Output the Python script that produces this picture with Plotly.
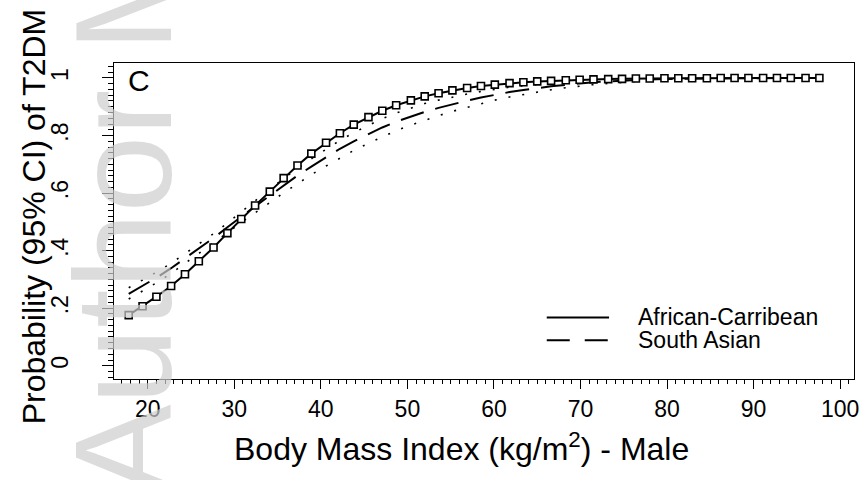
import plotly.graph_objects as go

# BMI values (x grid where the curves are evaluated)
bmi = [17.8, 19.4, 21.0, 22.7, 24.3, 25.9, 27.6, 29.2, 30.8, 32.4,
       34.1, 35.7, 37.3, 38.9, 40.6, 42.2, 43.8, 45.5, 47.1, 48.7,
       50.4, 52.0, 53.6, 55.2, 56.9, 58.5, 60.1, 61.8, 63.4, 65.0,
       66.6, 68.3, 69.9, 71.5, 73.2, 74.8, 76.4, 78.0, 79.7, 81.3,
       82.9, 84.6, 86.2, 87.8, 89.4, 91.1, 92.7, 94.3, 96.0, 97.6]

african_caribbean = [0.176, 0.207, 0.240, 0.277, 0.318, 0.363, 0.411, 0.461, 0.510, 0.557,
                     0.605, 0.652, 0.696, 0.737, 0.775, 0.808, 0.838, 0.864, 0.886, 0.905,
                     0.922, 0.936, 0.947, 0.957, 0.965, 0.972, 0.977, 0.982, 0.985, 0.988,
                     0.990, 0.992, 0.994, 0.995, 0.996, 0.997, 0.998, 0.998, 0.999, 0.999,
                     0.999, 0.999, 1.0, 1.0, 1.0, 1.0, 1.0, 1.0, 1.0, 1.0]

south_asian = [0.250, 0.277, 0.306, 0.339, 0.373, 0.408, 0.444, 0.481, 0.518, 0.554,
               0.591, 0.627, 0.661, 0.692, 0.724, 0.754, 0.780, 0.805, 0.828, 0.848,
               0.866, 0.882, 0.896, 0.909, 0.921, 0.932, 0.942, 0.951, 0.958, 0.965,
               0.971, 0.976, 0.981, 0.985, 0.988, 0.991, 0.993, 0.995, 0.996, 0.997,
               0.998, 0.998, 0.999, 0.999, 0.999, 1.0, 1.0, 1.0, 1.0, 1.0]

south_asian_upper = [0.271, 0.297, 0.325, 0.356, 0.389, 0.423, 0.459, 0.496, 0.535, 0.574,
                     0.613, 0.651, 0.686, 0.719, 0.752, 0.783, 0.810, 0.836, 0.859, 0.878,
                     0.896, 0.911, 0.923, 0.934, 0.944, 0.953, 0.961, 0.968, 0.973, 0.978,
                     0.983, 0.986, 0.990, 0.993, 0.995, 0.997, 0.998, 0.999, 0.999, 1.0,
                     1.0, 1.0, 1.0, 1.0, 1.0, 1.0, 1.0, 1.0, 1.0, 1.0]

south_asian_lower = [0.232, 0.259, 0.288, 0.321, 0.355, 0.390, 0.426, 0.462, 0.498, 0.533,
                     0.567, 0.601, 0.634, 0.664, 0.694, 0.722, 0.748, 0.773, 0.796, 0.817,
                     0.836, 0.853, 0.869, 0.884, 0.898, 0.911, 0.923, 0.934, 0.943, 0.952,
                     0.959, 0.966, 0.972, 0.977, 0.981, 0.985, 0.988, 0.991, 0.993, 0.994,
                     0.995, 0.996, 0.997, 0.998, 0.998, 0.999, 0.999, 0.999, 1.0, 1.0]

x_ticks = [20, 30, 40, 50, 60, 70, 80, 90, 100]
y_ticks = [0, 0.2, 0.4, 0.6, 0.8, 1]
y_tick_labels = ["0", ".2", ".4", ".6", ".8", "1"]

series_names = ["African-Carribean", "South Asian"]

FONT = "Liberation Sans, Arial, Helvetica, sans-serif"

fig = go.Figure()

# South Asian CI (dotted)
for band in (south_asian_upper, south_asian_lower):
    fig.add_trace(go.Scatter(
        x=bmi, y=band, mode="lines",
        line=dict(color="black", width=1.6, dash="2px,12px"),
        showlegend=False, hoverinfo="skip"))

# South Asian (long dash)
fig.add_trace(go.Scatter(
    x=bmi, y=south_asian, mode="lines", name=series_names[1],
    line=dict(color="black", width=2, dash="24px,12px"),
    showlegend=False))

# African-Caribbean (solid with hollow squares)
fig.add_trace(go.Scatter(
    x=bmi, y=african_caribbean, mode="lines+markers", name=series_names[0],
    line=dict(color="black", width=2),
    marker=dict(symbol="square", size=7, color="white",
                line=dict(color="black", width=1.6)),
    showlegend=False))

# Manual legend (lines drawn in data coordinates, text as annotations)
leg_x0, leg_x1 = 66.1, 73.3
leg_y = [0.168, 0.089]
fig.add_shape(type="line", x0=leg_x0, x1=leg_x1, y0=leg_y[0], y1=leg_y[0],
              line=dict(color="black", width=2))
fig.add_shape(type="line", x0=leg_x0, x1=leg_x1, y0=leg_y[1], y1=leg_y[1],
              line=dict(color="black", width=2, dash="23px,15px"))
for name, yy in zip(series_names, leg_y):
    fig.add_annotation(x=76.4, y=yy, xref="x", yref="y", text=name,
                       showarrow=False, xanchor="left", yanchor="middle",
                       font=dict(family=FONT, size=23, color="black"))

# Panel label
fig.add_annotation(x=0.034, y=0.946, xref="paper", yref="paper", text="C",
                   showarrow=False, xanchor="center", yanchor="middle",
                   font=dict(family=FONT, size=30, color="black"))

# Axis titles
fig.add_annotation(x=0.469, y=-0.215, xref="paper", yref="paper",
                   text="Body Mass Index (kg/m<sup>2</sup>) - Male",
                   showarrow=False, xanchor="center", yanchor="middle",
                   font=dict(family=FONT, size=32, color="black"))
fig.add_annotation(x=-0.108, y=0.515, xref="paper", yref="paper",
                   text="Probability (95% CI) of T2DM", textangle=-90,
                   showarrow=False, xanchor="center", yanchor="middle",
                   font=dict(family=FONT, size=32, color="black"))

# Faint watermark of the source document
fig.add_annotation(x=0.012, y=1.40, xref="paper", yref="paper",
                   text="Author Manuscript", textangle=-90,
                   showarrow=False, xanchor="center", yanchor="middle",
                   font=dict(family=FONT, size=138, color="rgba(205,205,205,0.7)"))

fig.update_xaxes(
    range=[16.1, 101.6], tickvals=x_ticks, ticks="outside", ticklen=9,
    tickwidth=1.3, tickcolor="black", showline=True, linecolor="black",
    linewidth=1.3, mirror=True, showgrid=False, zeroline=False,
    automargin=False,
    tickfont=dict(family=FONT, size=23, color="black"),
    minor=dict(dtick=1, tick0=0, ticks="outside", ticklen=4,
               tickcolor="black", tickwidth=1, showgrid=False))
fig.update_yaxes(
    range=[-0.046, 1.052], tickvals=y_ticks, ticktext=y_tick_labels,
    tickangle=-90, ticks="outside", ticklen=11, tickwidth=1.3,
    tickcolor="black", showline=True, linecolor="black", linewidth=1.3,
    mirror=True, showgrid=False, zeroline=False, ticklabelstandoff=25,
    automargin=False,
    tickfont=dict(family=FONT, size=23, color="black"),
    minor=dict(dtick=0.02, tick0=0, ticks="outside", ticklen=5,
               tickcolor="black", tickwidth=1, showgrid=False))

fig.update_layout(
    width=864, height=480,
    margin=dict(l=114, r=10, t=63, b=101),
    paper_bgcolor="white", plot_bgcolor="rgba(0,0,0,0)",
    showlegend=False,
    font=dict(family=FONT, color="black"))

fig.write_html("out.html",
               config={"displayModeBar": False},
               post_script="document.body.style.margin='0';document.body.style.padding='0';")
